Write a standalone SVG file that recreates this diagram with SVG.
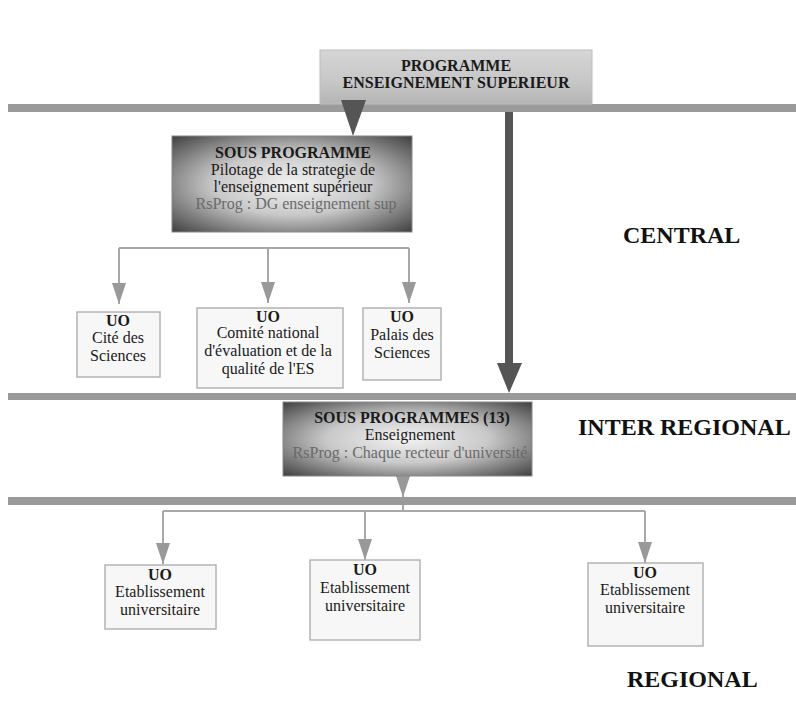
<svg xmlns="http://www.w3.org/2000/svg" width="796" height="704" viewBox="0 0 796 704">
<style>
text{font-family:"Liberation Serif","Times New Roman",serif;fill:#1a1a1a;text-anchor:middle}
.b{font-weight:bold}
.t16{font-size:16px}
.lvl{font-size:24px;font-weight:bold;text-anchor:start;fill:#111}
.rs{fill:#6a6a6a}
.bar{fill:#9a9a9a}
.uo{fill:#f7f7f7;stroke:#b4b4b4;stroke-width:1.5}
.con{fill:none;stroke:#a8a8a8;stroke-width:2}
.big{fill:#555}
</style>
<defs>
<linearGradient id="gTop" x1="0" y1="0" x2="0" y2="1">
<stop offset="0" stop-color="#d6d6d6"/>
<stop offset="0.6" stop-color="#c6c6c6"/>
<stop offset="1" stop-color="#b4b4b4"/>
</linearGradient>
<radialGradient id="gSub" cx="0.5" cy="0.5" r="0.72">
<stop offset="0" stop-color="#f2f2f2"/>
<stop offset="0.45" stop-color="#c9c9c9"/>
<stop offset="1" stop-color="#3a3a3a"/>
</radialGradient>
<marker id="ah" markerUnits="userSpaceOnUse" markerWidth="21" markerHeight="14" refX="21" refY="7" orient="auto">
<path d="M0,0 L21,7 L0,14 z" fill="#999"/>
</marker>
</defs>
<rect width="796" height="704" fill="#fff"/>

<g id="bars">
<rect class="bar" x="8" y="104" width="788" height="8"/>
<rect class="bar" x="8" y="393" width="788" height="7"/>
<rect class="bar" x="8" y="497" width="788" height="8"/>
</g>

<g id="levels">
<text class="lvl" x="623" y="243">CENTRAL</text>
<text class="lvl" x="578" y="435">INTER REGIONAL</text>
<text class="lvl" x="627" y="687">REGIONAL</text>
</g>

<g id="programme">
<rect x="320" y="50" width="272" height="54" fill="url(#gTop)" stroke="#bdbdbd"/>
<text class="b t16" x="456" y="71">PROGRAMME</text>
<text class="b t16" x="456" y="88">ENSEIGNEMENT SUPERIEUR</text>
</g>

<g id="connectors">
<polygon class="big" points="341,100 366,100 353,136"/>
<rect class="big" x="505" y="112" width="8" height="253"/>
<polygon class="big" points="497,363 522,363 509,393"/>
<path class="con" d="M119,248 H409"/>
<path class="con" d="M119,248 V304" marker-end="url(#ah)"/>
<path class="con" d="M268,248 V303" marker-end="url(#ah)"/>
<path class="con" d="M409,248 V303" marker-end="url(#ah)"/>
<path class="con" d="M403,452 V497" marker-end="url(#ah)"/>
<path class="con" d="M403,505 V511 M163,511 H645"/>
<path class="con" d="M163,511 V564" marker-end="url(#ah)"/>
<path class="con" d="M365,511 V560" marker-end="url(#ah)"/>
<path class="con" d="M645,511 V563" marker-end="url(#ah)"/>
</g>

<g id="sous-programme">
<rect x="172" y="136" width="240" height="96" fill="url(#gSub)" stroke="#888"/>
<text class="b t16" x="293" y="158">SOUS PROGRAMME</text>
<text class="t16" x="293" y="175">Pilotage de la strategie de</text>
<text class="t16" x="293" y="192">l'enseignement supérieur</text>
<text class="t16 rs" x="296" y="209">RsProg : DG enseignement sup</text>
</g>

<g id="uo-cite">
<rect class="uo" x="77" y="312" width="83" height="65"/>
<text class="b t16" x="118" y="326">UO</text>
<text class="t16" x="118" y="343">Cité des</text>
<text class="t16" x="118" y="361">Sciences</text>
</g>

<g id="uo-comite">
<rect class="uo" x="197" y="308" width="146" height="80"/>
<text class="b t16" x="268" y="322">UO</text>
<text class="t16" x="268" y="338">Comité national</text>
<text class="t16" x="268" y="356">d'évaluation et de la</text>
<text class="t16" x="268" y="374">qualité de l'ES</text>
</g>

<g id="uo-palais">
<rect class="uo" x="363" y="308" width="78" height="72"/>
<text class="b t16" x="402" y="322">UO</text>
<text class="t16" x="402" y="340">Palais des</text>
<text class="t16" x="402" y="358">Sciences</text>
</g>

<g id="sous-programmes-13">
<rect x="283" y="402" width="249" height="74" fill="url(#gSub)" stroke="#888"/>
<text class="b t16" x="412" y="423">SOUS PROGRAMMES (13)</text>
<text class="t16" x="410" y="440">Enseignement</text>
<text class="t16 rs" x="410" y="458">RsProg : Chaque recteur d'université</text>
</g>

<g id="uo-etab-1">
<rect class="uo" x="105" y="565" width="111" height="64"/>
<text class="b t16" x="160" y="580">UO</text>
<text class="t16" x="160" y="597">Etablissement</text>
<text class="t16" x="160" y="615">universitaire</text>
</g>

<g id="uo-etab-2">
<rect class="uo" x="310" y="560" width="110" height="80"/>
<text class="b t16" x="365" y="575">UO</text>
<text class="t16" x="365" y="593">Etablissement</text>
<text class="t16" x="365" y="611">universitaire</text>
</g>

<g id="uo-etab-3">
<rect class="uo" x="588" y="563" width="115" height="83"/>
<text class="b t16" x="645" y="578">UO</text>
<text class="t16" x="645" y="595">Etablissement</text>
<text class="t16" x="645" y="613">universitaire</text>
</g>
</svg>
